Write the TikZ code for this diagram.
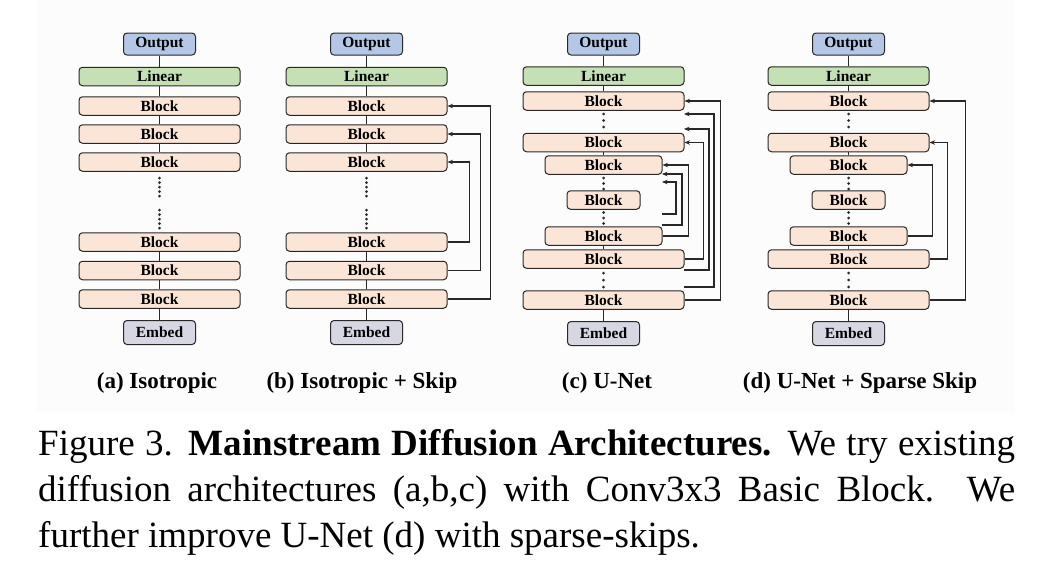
\documentclass[tikz,border=0pt]{standalone}
\usepackage{fontspec}
\setmainfont{Liberation Serif}
\usetikzlibrary{arrows.meta}
\definecolor{outc}{RGB}{180,199,231}
\definecolor{linc}{RGB}{197,224,180}
\definecolor{blkc}{RGB}{251,229,214}
\definecolor{embc}{RGB}{214,215,227}
\definecolor{edgec}{RGB}{40,40,40}
\begin{document}
\begin{tikzpicture}[x=1pt,y=-1pt,
  box/.style={draw=edgec, line width=1pt, rounded corners=3.5pt, inner sep=0pt,
    font=\fontsize{15.5}{16}\selectfont\bfseries},
  outbox/.style={box, fill=outc, minimum width=72pt, minimum height=22pt},
  linbox/.style={box, fill=linc, minimum width=161pt, minimum height=18.5pt},
  embbox/.style={box, fill=embc, minimum width=72pt, minimum height=24pt},
  wblk/.style={box, fill=blkc, minimum width=161pt, minimum height=18.5pt},
  mblk/.style={box, fill=blkc, minimum width=117pt, minimum height=18.5pt},
  sblk/.style={box, fill=blkc, minimum width=73pt, minimum height=18.5pt},
  link/.style={draw=edgec, line width=1.1pt},
  skip/.style={draw=edgec, line width=1.2pt, -{Stealth[length=5.5pt,width=4.5pt]}},
  sublabel/.style={font=\fontsize{23}{26}\selectfont\bfseries, inner sep=0pt},
  dot/.style={fill=edgec}
]
\useasboundingbox (0,0) rectangle (1055,582);
\fill[black!1.2] (37,0) rectangle (1015,413);

% ---------------- (a) Isotropic ----------------
\node[outbox] (a-o) at (159.5,44) {Output};
\node[linbox] (a-l) at (159.5,76.5) {Linear};
\node[wblk] (a-b1) at (159.5,106) {Block};
\node[wblk] (a-b2) at (159.5,134) {Block};
\node[wblk] (a-b3) at (159.5,162) {Block};
\node[wblk] (a-b4) at (159.5,242) {Block};
\node[wblk] (a-b5) at (159.5,270.5) {Block};
\node[wblk] (a-b6) at (159.5,299) {Block};
\node[embbox] (a-e) at (159.5,332.5) {Embed};
\draw[link] (a-o) -- (a-l);
\draw[link] (a-l) -- (a-b1);
\draw[link] (a-b1) -- (a-b2);
\draw[link] (a-b2) -- (a-b3);
\draw[link] (a-b4) -- (a-b5);
\draw[link] (a-b5) -- (a-b6);
\draw[link] (a-b6) -- (a-e);
\foreach \yy in {178,182.5,187,191.5,196,210,214.5,219,223.5,228}
  \fill[dot] (159.5,\yy) circle (1.5pt);
\node[sublabel] (a-t) at (157,383) {(a) Isotropic};

% ---------------- (b) Isotropic + Skip ----------------
\node[outbox] (b-o) at (366.5,44) {Output};
\node[linbox] (b-l) at (366.5,76.5) {Linear};
\node[wblk] (b-b1) at (366.5,106) {Block};
\node[wblk] (b-b2) at (366.5,134) {Block};
\node[wblk] (b-b3) at (366.5,162) {Block};
\node[wblk] (b-b4) at (366.5,242) {Block};
\node[wblk] (b-b5) at (366.5,270.5) {Block};
\node[wblk] (b-b6) at (366.5,299) {Block};
\node[embbox] (b-e) at (366.5,332.5) {Embed};
\draw[link] (b-o) -- (b-l);
\draw[link] (b-l) -- (b-b1);
\draw[link] (b-b1) -- (b-b2);
\draw[link] (b-b2) -- (b-b3);
\draw[link] (b-b4) -- (b-b5);
\draw[link] (b-b5) -- (b-b6);
\draw[link] (b-b6) -- (b-e);
\foreach \yy in {178,182.5,187,191.5,196,210,214.5,219,223.5,228}
  \fill[dot] (366.5,\yy) circle (1.5pt);
\draw[skip] (b-b4.east) -- ++(22,0) |- (b-b3.east);
\draw[skip] (b-b5.east) -- ++(33,0) |- (b-b2.east);
\draw[skip] (b-b6.east) -- ++(43,0) |- (b-b1.east);
\node[sublabel] (b-t) at (362,383) {(b) Isotropic + Skip};

% ---------------- (c) U-Net ----------------
\node[outbox] (c-o) at (603.5,44) {Output};
\node[linbox] (c-l) at (603.5,76) {Linear};
\node[wblk] (c-b1) at (603.5,101) {Block};
\node[wblk] (c-b2) at (603.5,142.5) {Block};
\node[mblk] (c-b3) at (603.5,165) {Block};
\node[sblk] (c-b4) at (603.5,200) {Block};
\node[mblk] (c-b5) at (603.5,236) {Block};
\node[wblk] (c-b6) at (603.5,259) {Block};
\node[wblk] (c-b7) at (603.5,300) {Block};
\node[embbox] (c-e) at (603.5,333.5) {Embed};
\draw[link] (c-o) -- (c-l);
\draw[link] (c-l) -- (c-b1);
\draw[link] (c-b2) -- (c-b3);
\draw[link] (c-b5) -- (c-b6);
\draw[link] (c-b7) -- (c-e);
\foreach \yy in {114,120.5,127,178,183.5,189,212.5,218,223.5,273,280,287}
  \fill[dot] (603.5,\yy) circle (1.5pt);
\coordinate (c-s2) at (684,287); \coordinate (c-t2) at (684,114);
\coordinate (c-s3) at (684,270); \coordinate (c-t3) at (684,129);
\coordinate (c-s6) at (662,225); \coordinate (c-t6) at (662,174);
\coordinate (c-s7) at (662,214); \coordinate (c-t7) at (662,182);
\draw[skip] (c-b7.east) -- ++(36,0) |- (c-b1.east);
\draw[skip] (c-s2) -- ++(30,0) |- (c-t2);
\draw[skip] (c-s3) -- ++(25,0) |- (c-t3);
\draw[skip] (c-b6.east) -- ++(19,0) |- (c-b2.east);
\draw[skip] (c-b5.east) -- ++(26,0) |- (c-b3.east);
\draw[skip] (c-s6) -- ++(20,0) |- (c-t6);
\draw[skip] (c-s7) -- ++(14,0) |- (c-t7);
\node[sublabel] (c-t) at (607,383) {(c) U-Net};

% ---------------- (d) U-Net + Sparse Skip ----------------
\node[outbox] (d-o) at (848.5,44) {Output};
\node[linbox] (d-l) at (848.5,76) {Linear};
\node[wblk] (d-b1) at (848.5,101) {Block};
\node[wblk] (d-b2) at (848.5,142.5) {Block};
\node[mblk] (d-b3) at (848.5,165) {Block};
\node[sblk] (d-b4) at (848.5,200) {Block};
\node[mblk] (d-b5) at (848.5,236) {Block};
\node[wblk] (d-b6) at (848.5,259) {Block};
\node[wblk] (d-b7) at (848.5,300) {Block};
\node[embbox] (d-e) at (848.5,333.5) {Embed};
\draw[link] (d-o) -- (d-l);
\draw[link] (d-l) -- (d-b1);
\draw[link] (d-b2) -- (d-b3);
\draw[link] (d-b5) -- (d-b6);
\draw[link] (d-b7) -- (d-e);
\foreach \yy in {114,120.5,127,178,183.5,189,212.5,218,223.5,273,280,287}
  \fill[dot] (848.5,\yy) circle (1.5pt);
\draw[skip] (d-b7.east) -- ++(36,0) |- (d-b1.east);
\draw[skip] (d-b6.east) -- ++(18,0) |- (d-b2.east);
\draw[skip] (d-b5.east) -- ++(25,0) |- (d-b3.east);
\node[sublabel] (d-t) at (860,383) {(d) U-Net + Sparse Skip};

% ---------------- caption ----------------
\node[anchor=north west, inner sep=0pt, text width=977pt, align=justify,
  font=\fontsize{37}{46}\selectfont] (cap) at (38,429)
  {\noindent Figure 3. \textbf{Mainstream Diffusion Architectures.} We try existing\linebreak
   diffusion architectures (a,b,c) with Conv3x3 Basic Block.\ \ We\linebreak
   further improve U-Net (d) with sparse-skips.};
\end{tikzpicture}
\end{document}
